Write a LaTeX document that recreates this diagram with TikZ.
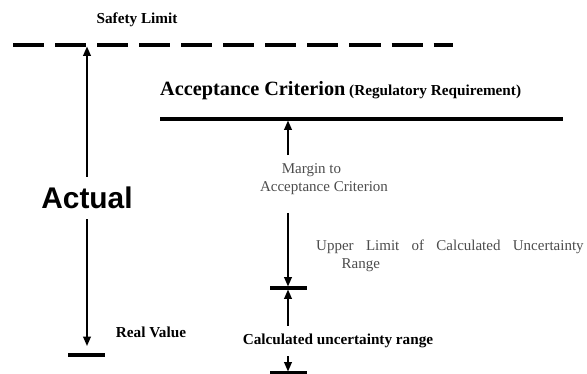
\documentclass[tikz,border=0pt]{standalone}
\usepackage{fontspec}
\setmainfont{Liberation Serif}
\setsansfont{Liberation Sans}
\usetikzlibrary{arrows.meta,positioning,calc}

\begin{document}
\begin{tikzpicture}[x=0.03cm,y=-0.03cm,>={Triangle[length=8pt,width=6.5pt]}]
\tikzstyle{level}=[line width=3.2pt]
\tikzstyle{tick}=[line width=3.2pt]
\tikzstyle{span}=[->,line width=1.5pt]
\tikzstyle{lbl}=[font=\bfseries\fontsize{13}{15.6}\selectfont,inner sep=0pt]
\tikzstyle{note}=[text=black!70,font=\fontsize{12.8}{15.5}\selectfont,align=left,inner sep=0pt]
\useasboundingbox (0,0) rectangle (587,374);
% limit lines
\coordinate (safeL) at (13,45);
\coordinate (safeR) at (453,45);
\draw[level,dash pattern=on 26.5pt off 9.4pt] (safeL) -- (safeR);
\node[lbl] (safety) at (137,20) {Safety Limit};
\coordinate (accL) at (160,119);
\coordinate (accR) at (563,119);
\draw[level] (accL) -- (accR);
\node[lbl,anchor=base west] (acc) at (160,96) {{\fontsize{17.3}{20}\selectfont Acceptance Criterion} (Regulatory Requirement)};
% actual
\coordinate (safeA) at (87,46.5);
\node[font=\sffamily\bfseries\fontsize{25.5}{28}\selectfont,inner sep=0pt] (actual) at (87,198) {Actual};
\coordinate (realA) at (87,346);
\draw[tick] (68,355) -- (105,355);
\draw[span] ($(actual.north)+(0,-10)$) -- (safeA);
\draw[span] ($(actual.south)+(0,10)$) -- (realA);
\node[lbl] (real) at (151,332) {Real Value};
% calculated values
\coordinate (accM) at (288,120.5);
\node[note] (margin) at (324,179) {\hspace{1.45em}Margin to\\Acceptance Criterion};
\draw[span] ($(accM |- margin.north)+(0,-8)$) -- (accM);
\coordinate (upper) at (288,288);
\draw[tick] (270,288) -- (307,288);
\draw[span] ($(accM |- margin.south)+(0,18)$) -- ($(upper)+(0,-1.5)$);
\node[note,anchor=base west,font={\fontsize{12.8}{15.5}\selectfont\spaceskip=0.82em\relax}] (ulim) at (316,269) {Upper Limit of Calculated Uncertainty\\\hspace{1.7em}Range};
\node[lbl] (calc) at (338,341) {Calculated uncertainty range};
\coordinate (lower) at (288,373);
\draw[tick] (270,373) -- (307,373);
\draw[span] ($(upper |- calc.north)+(0,-8)$) -- ($(upper)+(0,1.5)$);
\draw[span] ($(upper |- calc.south)+(0,8)$) -- ($(lower)+(0,-1.5)$);
\end{tikzpicture}
\end{document}
